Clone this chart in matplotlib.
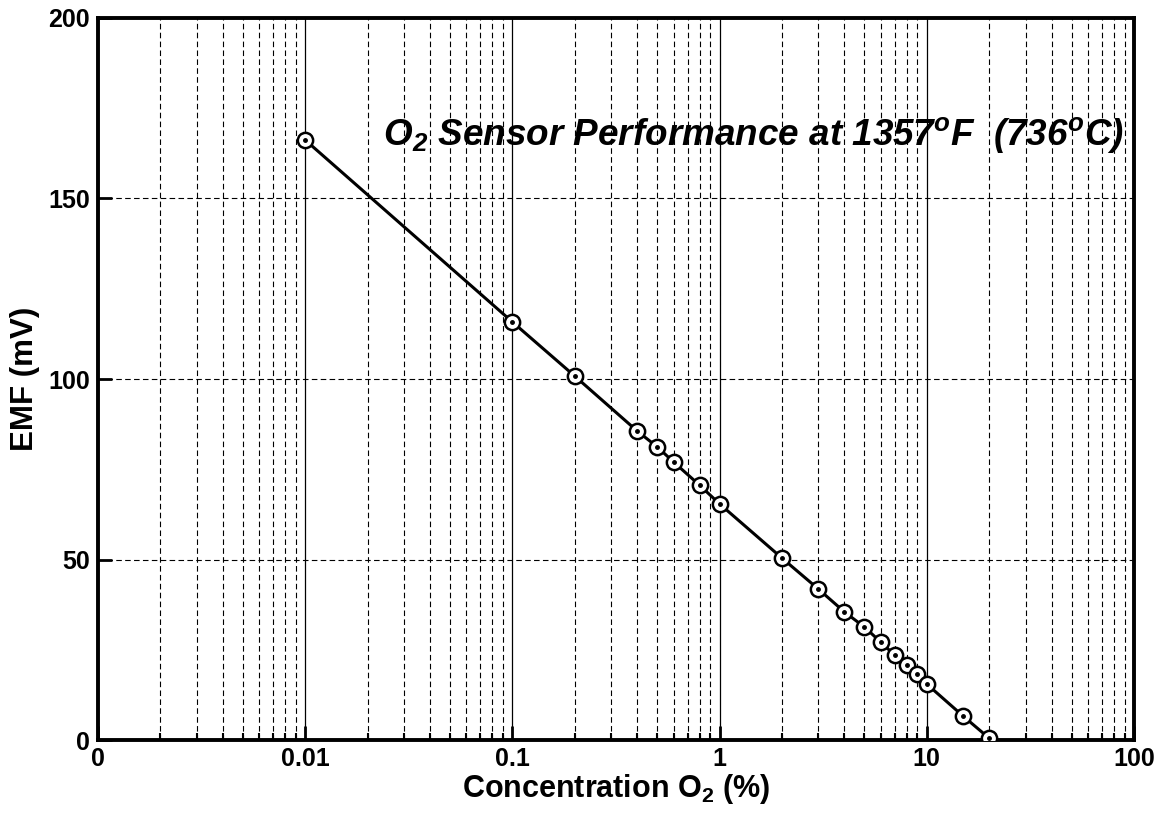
import matplotlib.pyplot as plt
from matplotlib.ticker import FixedLocator, LogLocator, NullFormatter

plt.rcParams['font.family'] = ['Liberation Sans', 'DejaVu Sans']
plt.rcParams['font.weight'] = 'bold'
plt.rcParams['mathtext.default'] = 'regular'

# O2 concentration (%) and measured EMF (mV)
conc = [0.01, 0.1, 0.2, 0.4, 0.5, 0.6, 0.8, 1, 2, 3, 4, 5, 6, 7, 8, 9, 10, 15, 20]
emf = [166.2, 115.8, 100.8, 85.6, 81.2, 77.0, 70.6, 65.4, 50.4, 41.8, 35.5,
       31.3, 27.1, 23.5, 20.8, 18.3, 15.5, 6.6, 0.5]

x_ticks = [0.001, 0.01, 0.1, 1, 10, 100]
x_tick_labels = ['0', '0.01', '0.1', '1', '10', '100']
y_ticks = [0, 50, 100, 150, 200]

fig = plt.figure(figsize=(11.68, 8.17), dpi=100)
ax = fig.add_axes([0.0839, 0.0942, 0.9709 - 0.0839, 0.978 - 0.0942])

ax.set_xscale('log')
ax.set_xlim(0.001, 100)
ax.set_ylim(0, 200)

# grid: solid decades, dashed minors, dashed horizontals
ax.xaxis.set_major_locator(FixedLocator(x_ticks))
ax.xaxis.set_minor_locator(LogLocator(base=10, subs=range(2, 10)))
ax.xaxis.set_minor_formatter(NullFormatter())
ax.set_xticks(x_ticks)
ax.set_xticklabels(x_tick_labels)
ax.set_yticks(y_ticks)

ax.grid(True, which='major', axis='x', color='black', linestyle='-', linewidth=0.9)
ax.grid(True, which='minor', axis='x', color='black', linestyle=(0, (5, 3)), linewidth=0.8)
ax.grid(True, which='major', axis='y', color='black', linestyle=(0, (5, 3)), linewidth=0.8)

ax.tick_params(axis='both', which='major', direction='in', length=10, width=2,
               labelsize=18, pad=6)
ax.tick_params(axis='x', which='major', pad=5)
ax.tick_params(axis='x', which='minor', direction='in', length=5, width=1.5)
for lab in ax.get_xticklabels() + ax.get_yticklabels():
    lab.set_fontweight('bold')

for spine in ax.spines.values():
    spine.set_linewidth(2.8)

ax.plot(conc, emf, '-', color='black', linewidth=2.2, marker='o', markersize=11,
        markerfacecolor='white', markeredgecolor='black', markeredgewidth=1.8, zorder=4)
ax.plot(conc, emf, linestyle='none', marker='o', markersize=2.5, color='black', zorder=5)

ax.set_xlabel('Concentration O$_2$ (%)', fontsize=22, fontweight='bold', labelpad=1)
ax.set_ylabel('EMF (mV)', fontsize=22.5, fontweight='bold', labelpad=6)

ax.text(0.99, 0.838, 'O$_2$ Sensor Performance at 1357$^o$F  (736$^o$C)',
        transform=ax.transAxes, ha='right', va='center', fontsize=26.6,
        fontweight='bold', fontstyle='italic',
        family=['Liberation Sans Narrow', 'Liberation Sans'])

fig.savefig('out.png', dpi=100)
